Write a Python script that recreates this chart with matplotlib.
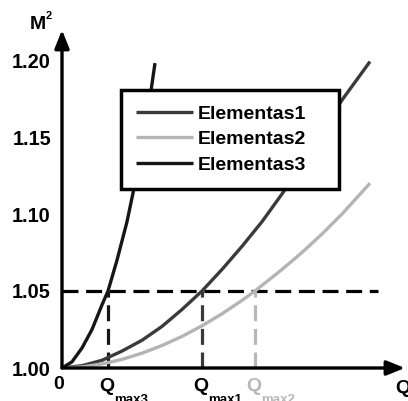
import numpy as np
import matplotlib
matplotlib.use("Agg")
import matplotlib.pyplot as plt

plt.rcParams['font.family'] = ['Liberation Sans', 'DejaVu Sans']
plt.rcParams['font.weight'] = 'bold'

# flow rate Q (arbitrary units) and beam quality M^2 for the three elements
q_el1 = [0, 2, 4, 6, 8, 10, 12, 14, 16, 18, 20, 22, 24, 26, 28, 30.8]
m2_el1 = [1.000, 1.0015, 1.005, 1.011, 1.018, 1.027, 1.038, 1.050, 1.064,
          1.079, 1.095, 1.113, 1.132, 1.153, 1.174, 1.199]

q_el2 = [0, 2, 4, 6, 8, 10, 12, 14, 16, 18, 19.3, 22, 24, 26, 28, 30.8]
m2_el2 = [1.000, 1.0007, 1.0026, 1.0056, 1.0096, 1.0146, 1.0205, 1.0274,
          1.0352, 1.0439, 1.050, 1.064, 1.075, 1.087, 1.100, 1.120]

q_el3 = [0, 1, 2, 3, 4, 4.6, 5.5, 6.5, 7.5, 8.5, 9.3]
m2_el3 = [1.000, 1.004, 1.013, 1.025, 1.041, 1.050, 1.070, 1.095, 1.126,
          1.162, 1.198]

labels = ['Elementas1', 'Elementas2', 'Elementas3']
colors = ['#3a3a3a', '#b4b4b4', '#161616']

m2_limit = 1.05
q_max = [14.0, 19.3, 4.6]          # Qmax1, Qmax2, Qmax3
q_max_names = ['max1', 'max2', 'max3']
yticks = [1.00, 1.05, 1.10, 1.15, 1.20]

W, H = 408, 401
fig = plt.figure(figsize=(W / 100, H / 100), dpi=100)
ax = fig.add_axes([62 / W, 33 / H, 346 / W, 368 / H])
ax.set_xlim(0, 34.6)
ax.set_ylim(1.0, 1.0 + 368 / 1540)

for spine in ax.spines.values():
    spine.set_visible(False)
ax.set_xticks([])
ax.set_yticks(yticks)
ax.set_yticklabels([f'{v:.2f}' for v in yticks], fontsize=14.3, fontweight='bold')
ax.tick_params(axis='y', length=0, pad=8)

curves = [(q_el1, m2_el1), (q_el2, m2_el2), (q_el3, m2_el3)]
for (q, m2), lab, col in zip(curves, labels, colors):
    ax.plot(q, m2, color=col, lw=2.4, label=lab, solid_capstyle='butt', zorder=3)

# limit level and the flow rates where each curve crosses it
dash = (5.0, 2.4)
ax.plot([0, 31.6], [m2_limit, m2_limit], color='black', lw=2.3,
        dashes=dash, zorder=2)
for qm, col in zip(q_max, ['#3a3a3a', '#b8b8b8', '#161616']):
    ax.plot([qm, qm], [1.0, m2_limit], color=col, lw=2.3, dashes=dash, zorder=2)

# axes with arrow heads
arrow = dict(arrowstyle='-|>,head_length=0.55,head_width=0.22', color='black',
             lw=2.4, mutation_scale=20, shrinkA=0, shrinkB=0)
ax.annotate('', xy=(0, 1.2195), xytext=(0, 1.0), arrowprops=arrow,
            annotation_clip=False, zorder=4)
ax.annotate('', xy=(34.3, 1.0), xytext=(0, 1.0), arrowprops=arrow,
            annotation_clip=False, zorder=4)

ax.text(-0.3, 0.9896, '0', fontsize=14, fontweight='bold', ha='center',
        va='center', clip_on=False)
ax.text(33.3, 0.9870, 'Q', fontsize=14, fontweight='bold', ha='left',
        va='center', clip_on=False)
ax.text(-2.45, 1.2230, 'M', fontsize=14, fontweight='bold', ha='center',
        va='center', clip_on=False)
ax.text(-1.6, 1.2283, '2', fontsize=8, fontweight='bold', ha='left',
        va='center', clip_on=False)

for qm, name, col in zip(q_max, q_max_names, ['black', '#b8b8b8', 'black']):
    ax.text(qm - 0.1, 0.9883, 'Q', fontsize=14, fontweight='bold', color=col,
            ha='center', va='center', clip_on=False)
    ax.text(qm + 0.6, 0.9795, name, fontsize=9.5, fontweight='bold', color=col,
            ha='left', va='center', clip_on=False)

leg = ax.legend(loc='upper left',
                bbox_to_anchor=(121 / W, 1 - 190 / H, 218 / W, 100 / H),
                bbox_transform=fig.transFigure, mode='expand', fontsize=14,
                frameon=True, fancybox=False, framealpha=1, edgecolor='black',
                handlelength=2.9, handletextpad=0.25, labelspacing=0.4,
                borderpad=0.78, borderaxespad=0)
leg.get_frame().set_linewidth(2.5)
for t in leg.get_texts():
    t.set_fontweight('bold')
leg.set_zorder(5)

fig.savefig('out.png', dpi=100)
